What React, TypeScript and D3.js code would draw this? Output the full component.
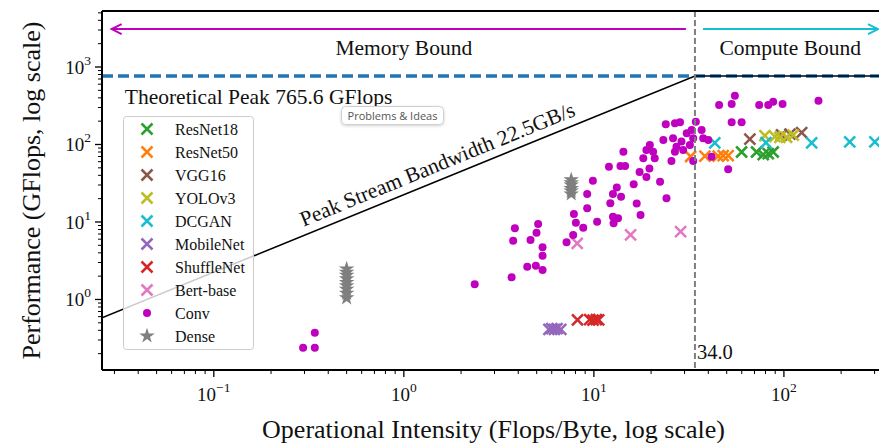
import React from 'react';
import * as d3 from 'd3';

const W = 879;
const H = 443;

const PEAK = 765.6;
const BW = 22.5;
const RIDGE_LABEL = '34.0';

// tick labels
const X_MAJOR = [0.1, 1, 10, 100];
const X_MAJOR_EXP = ['\u22121', '0', '1', '2'];
const Y_MAJOR = [1, 10, 100, 1000];
const Y_MAJOR_EXP = ['0', '1', '2', '3'];

// model series [operational intensity, GFlops]
const resnet18 = [[59.9, 80], [71.8, 80], [77.8, 74], [82.7, 76], [87.8, 80]];
const resnet50 = [[32.3, 70], [38.4, 71], [45.1, 71], [47.9, 72], [50.9, 72]];
const vgg16 = [[66.2, 117], [97.2, 133], [107.6, 136], [124, 142]];
const yolov3 = [[79.4, 130], [89.7, 126], [95.3, 124], [103.3, 124], [112, 132]];
const dcgan = [[43.3, 105], [80.4, 106], [140, 105], [222, 108], [301, 108]];
const mobilenet = [[5.8, 0.41], [6.0, 0.42], [6.2, 0.41], [6.4, 0.42], [6.7, 0.41]];
const shufflenet = [[8.2, 0.545], [9.5, 0.55], [9.9, 0.54], [10.3, 0.55], [10.6, 0.545]];
const bertbase = [[8.17, 5.3], [15.6, 6.8], [28.6, 7.5]];

const conv = [
  [0.295, 0.239], [0.34, 0.239], [0.34, 0.373], [2.36, 1.57], [3.69, 1.93],
  [3.84, 8.29], [3.76, 5.74], [5.09, 9.42], [4.99, 7.28], [4.64, 5.86],
  [5.37, 4.72], [5.37, 3.67], [4.46, 2.65], [4.95, 2.73], [5.37, 2.4],
  [7.18, 5.47], [7.78, 6.8], [7.85, 12.7], [8.04, 9.8], [8.79, 8.44],
  [9.22, 23.0], [9.22, 15.0], [9.88, 34.1], [10.4, 10.1], [12.0, 51.7],
  [12.2, 17.4], [12.6, 11.7], [12.7, 9.62], [13.2, 27.9], [12.6, 23.0],
  [13.4, 11.2], [13.9, 21.2], [14.3, 80.7], [14.6, 52.8], [13.8, 52.8],
  [16.2, 30.7], [16.8, 17.3], [17.6, 12.3], [17.4, 44.2], [18.9, 38.1],
  [19.6, 49.0], [18.2, 66.4], [18.9, 84.9], [19.7, 98.6], [20.5, 80.7],
  [20.9, 66.4], [22.3, 33.1], [24.1, 20.2], [25.6, 61.2], [23.2, 114],
  [23.9, 182], [26.7, 188], [28.4, 193], [26.1, 120], [27.2, 93.7],
  [26.7, 80.7], [28.9, 109], [30.8, 140], [32.7, 154], [34.4, 197],
  [33.3, 120], [32.0, 98.6], [29.5, 84.9], [33.3, 61.2], [36.9, 154],
  [37.6, 120], [41.6, 69.6], [45.6, 323], [40.0, 114], [55.2, 426],
  [53.1, 333], [74.1, 323], [82.7, 323], [87.8, 357], [98.4, 333],
  [152, 367], [53.1, 193], [59.9, 193], [50.9, 47.9],
];

const denseX = [0.5, 0.5, 0.5, 0.5, 0.5, 0.5, 0.5, 0.5, 0.5, 7.6, 7.6, 7.6, 7.6, 7.6, 7.6];
const denseY = [1.05, 1.2, 1.35, 1.5, 1.65, 1.85, 2.05, 2.25, 2.48, 23, 25, 27, 30, 32, 35];

const MODEL_NAMES = ['ResNet18', 'ResNet50', 'VGG16', 'YOLOv3', 'DCGAN', 'MobileNet', 'ShuffleNet', 'Bert-base'];
const MODEL_DATA = [resnet18, resnet50, vgg16, yolov3, dcgan, mobilenet, shufflenet, bertbase];
const MODEL_COLORS = ['#2ca02c', '#ff7f0e', '#8c564b', '#bcbd22', '#17becf', '#9467bd', '#d62728', '#e377c2'];
const CONV_COLOR = '#bf00bf';
const DENSE_COLOR = '#7f7f7f';

const FONT = '"Liberation Serif", "Times New Roman", serif';

function XMark({ x, y, s, color, w }: { x: number; y: number; s: number; color: string; w: number }) {
  return (
    <path
      d={`M${x - s},${y - s}L${x + s},${y + s}M${x - s},${y + s}L${x + s},${y - s}`}
      stroke={color}
      strokeWidth={w}
      fill="none"
    />
  );
}

export default function App() {
  const left = 102;
  const top = 11;
  const bottom = 370;
  const x = d3.scaleLog().domain([0.0258, 316.5]).range([left, W]);
  const y = d3.scaleLog().domain([0.123, 5280]).range([bottom, top]);

  const ridge = PEAK / BW;
  const xMin = x.domain()[0];
  const xMax = 2000;
  const roof = d3.line<number[]>()
    .x((d) => x(d[0]))
    .y((d) => y(d[1]))([[xMin, BW * xMin], [ridge, PEAK], [xMax, PEAK]]);

  // minor ticks
  const xMinor: number[] = [];
  for (let e = -2; e <= 2; e++) for (let m = 2; m <= 9; m++) {
    const v = m * Math.pow(10, e);
    if (x(v) >= left && x(v) <= W) xMinor.push(v);
  }
  const yMinor: number[] = [];
  for (let e = -1; e <= 3; e++) for (let m = 2; m <= 9; m++) {
    const v = m * Math.pow(10, e);
    if (y(v) <= bottom && y(v) >= top) yMinor.push(v);
  }

  const angle = (Math.atan2(y(BW * 10) - y(BW), x(10) - x(1)) * 180) / Math.PI;
  const bwTxtX = 1.55;
  const bwPx = x(bwTxtX);
  const bwPy = y(BW * bwTxtX) - 9;

  const starPath = d3.symbol().type(d3.symbolStar).size(75)() as string;

  const legendItems = [
    ...MODEL_NAMES.map((n, i) => ({ name: n, color: MODEL_COLORS[i], kind: 'x' })),
    { name: 'Conv', color: CONV_COLOR, kind: 'o' },
    { name: 'Dense', color: DENSE_COLOR, kind: '*' },
  ];

  const arrowY = y(3090);

  return (
    <svg width={W} height={H} style={{ position: 'absolute', left: 0, top: 0 }} fontFamily={FONT}>
      <defs>
        <clipPath id="plot">
          <rect x={left} y={top} width={W - left + 50} height={bottom - top} />
        </clipPath>
        <filter id="shadow" x="-20%" y="-40%" width="140%" height="180%">
          <feDropShadow dx="0" dy="1" stdDeviation="1.5" floodColor="#000" floodOpacity="0.18" />
        </filter>
      </defs>
      <rect width={W} height={H} fill="#fff" />

      <g clipPath="url(#plot)">
        {/* peak dashed line */}
        <line x1={left} x2={W + 20} y1={y(PEAK)} y2={y(PEAK)} stroke="#1f77b4" strokeWidth={3.5} strokeDasharray="11,5" />
        {/* roofline */}
        <path d={roof || ''} stroke="#000" strokeWidth={1.6} fill="none" />

        {/* model crosses */}
        {MODEL_DATA.map((ser, i) =>
          ser.map((d, j) => (
            <XMark key={`m${i}-${j}`} x={x(d[0])} y={y(d[1])} s={5.5} color={MODEL_COLORS[i]} w={2.5} />
          ))
        )}
        {/* conv */}
        {conv.map((d, i) => (
          <circle key={`c${i}`} cx={x(d[0])} cy={y(d[1])} r={4} fill={CONV_COLOR} />
        ))}
        {/* dense */}
        {denseX.map((dx, i) => (
          <path key={`d${i}`} d={starPath} transform={`translate(${x(dx)},${y(denseY[i])})`} fill={DENSE_COLOR} />
        ))}

        {/* ridge vertical */}
        <line x1={x(ridge)} x2={x(ridge)} y1={top} y2={bottom} stroke="#7f7f7f" strokeWidth={2} strokeDasharray="6,3" />
      </g>

      {/* arrows */}
      <g fill="none" strokeWidth={2}>
        <line x1={x(30.5)} x2={x(0.029)} y1={arrowY} y2={arrowY} stroke={CONV_COLOR} />
        <path d={`M${x(0.029) + 10},${arrowY - 5}L${x(0.029)},${arrowY}L${x(0.029) + 10},${arrowY + 5}`} stroke={CONV_COLOR} />
        <line x1={x(37.5)} x2={W - 1} y1={arrowY} y2={arrowY} stroke="#17becf" />
        <path d={`M${W - 11},${arrowY - 5}L${W - 1},${arrowY}L${W - 11},${arrowY + 5}`} stroke="#17becf" />
      </g>

      {/* annotations */}
      <text x={x(1)} y={y(1429)} fontSize={21.5} textAnchor="middle" fill="#111">Memory Bound</text>
      <text x={x(108)} y={y(1429)} fontSize={21.5} textAnchor="middle" fill="#111">Compute Bound</text>
      <text x={x(0.034)} y={y(333)} fontSize={21.5} fill="#111">Theoretical Peak {PEAK} GFlops</text>
      <text
        x={bwPx}
        y={bwPy}
        fontSize={21.5}
        textAnchor="middle"
        fill="#111"
        transform={`rotate(${angle},${bwPx},${bwPy})`}
      >
        Peak Stream Bandwidth {BW}GB/s
      </text>
      <text x={x(ridge) + 2} y={bottom - 11} fontSize={20.5} fill="#111">{RIDGE_LABEL}</text>

      {/* legend */}
      <g>
        <rect x={123.5} y={116.5} width={130} height={233} rx={3} fill="#fff" fillOpacity={0.8} stroke="#cccccc" strokeWidth={1} />
        {legendItems.map((it, i) => {
          const ly = 129 + i * 23.0;
          return (
            <g key={it.name}>
              {it.kind === 'x' && <XMark x={147} y={ly} s={5.5} color={it.color} w={2.5} />}
              {it.kind === 'o' && <circle cx={147} cy={ly} r={4} fill={it.color} />}
              {it.kind === '*' && <path d={starPath} transform={`translate(147,${ly})`} fill={it.color} />}
              <text x={175} y={ly + 5.5} fontSize={16} fill="#111">{it.name}</text>
            </g>
          );
        })}
      </g>

      {/* axes spines */}
      <line x1={left} x2={left} y1={top} y2={bottom} stroke="#000" strokeWidth={2} />
      <line x1={left} x2={W} y1={bottom} y2={bottom} stroke="#000" strokeWidth={2} />
      <line x1={left} x2={W} y1={top} y2={top} stroke="#000" strokeWidth={2} />

      {/* x ticks */}
      {X_MAJOR.map((v, i) => (
        <g key={`xt${i}`}>
          <line x1={x(v)} x2={x(v)} y1={bottom} y2={bottom + 7} stroke="#000" strokeWidth={1.3} />
          <text x={x(v)} y={bottom + 31} fontSize={19} textAnchor="middle" fill="#111">
            10<tspan dy={-9} fontSize={13.5}>{X_MAJOR_EXP[i]}</tspan>
          </text>
        </g>
      ))}
      {xMinor.map((v, i) => (
        <line key={`xm${i}`} x1={x(v)} x2={x(v)} y1={bottom} y2={bottom + 4} stroke="#000" strokeWidth={1} />
      ))}

      {/* y ticks */}
      {Y_MAJOR.map((v, i) => (
        <g key={`yt${i}`}>
          <line x1={left} x2={left - 7} y1={y(v)} y2={y(v)} stroke="#000" strokeWidth={1.3} />
          <text x={91} y={y(v) + 7} fontSize={19} textAnchor="end" fill="#111">
            10<tspan dy={-9} fontSize={13.5}>{Y_MAJOR_EXP[i]}</tspan>
          </text>
        </g>
      ))}
      {yMinor.map((v, i) => (
        <line key={`ym${i}`} x1={left} x2={left - 4} y1={y(v)} y2={y(v)} stroke="#000" strokeWidth={1} />
      ))}

      {/* axis labels */}
      <text x={(263 + 724) / 2} y={438} fontSize={26} textAnchor="middle" fill="#111">
        Operational Intensity (Flops/Byte, log scale)
      </text>
      <text
        x={0}
        y={0}
        fontSize={26}
        textAnchor="middle"
        fill="#111"
        transform={`translate(40,${(top + bottom) / 2}) rotate(-90)`}
      >
        Performance (GFlops, log scale)
      </text>

      {/* overlay tooltip */}
      <g filter="url(#shadow)">
        <rect x={341.5} y={106.5} width={102} height={18} rx={4} fill="#fff" stroke="#d0d0d0" />
      </g>
      <text x={392.5} y={119.5} fontSize={11} textAnchor="middle" fill="#555" fontFamily='"Open Sans", "Noto Sans", sans-serif'>
        Problems &amp; Ideas
      </text>
    </svg>
  );
}
